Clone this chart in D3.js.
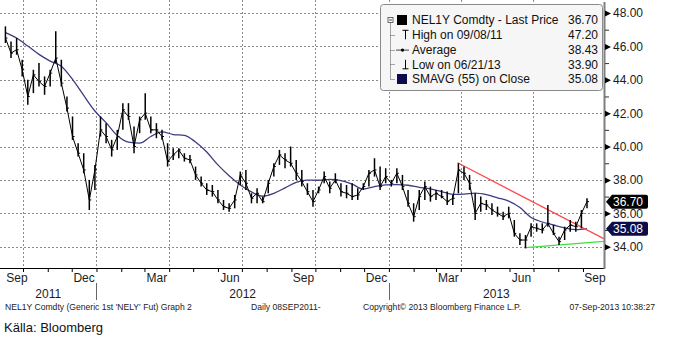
<!DOCTYPE html>
<html><head><meta charset="utf-8">
<script src="https://cdn.jsdelivr.net/npm/d3@7"></script>
<style>
html,body{margin:0;padding:0;background:#fff;}
svg{display:block;}
text{font-family:"Liberation Sans",Arial,sans-serif;}
</style></head><body>
<svg id="c" width="676" height="338"></svg>
<script>
// ---------- DATA ----------
const firstWeek = "2011-09-09";   // weekly bars, one per week (Friday)
const priceHigh = [47.2,46.3,46.5,45.2,44.0,44.6,45.0,44.2,44.6,46.9,45.2,43.0,41.8,40.2,39.6,38.0,38.9,41.8,41.4,40.4,
41.0,42.6,42.6,41.2,41.8,43.2,41.8,41.4,41.0,40.2,39.9,39.9,39.6,39.5,38.8,38.2,37.8,37.7,37.4,36.8,
36.6,37.1,38.5,38.6,37.2,37.5,37.0,38.0,39.0,39.8,39.6,40.0,39.2,38.6,37.8,37.4,37.6,38.5,37.9,38.4,
37.8,37.7,37.8,37.5,37.8,38.6,39.3,38.8,38.7,38.0,38.7,38.3,37.4,36.6,37.4,37.9,37.6,37.4,37.4,37.3,
37.1,39.0,38.8,38.3,37.2,37.0,36.8,36.6,36.4,36.1,36.4,35.6,34.8,34.7,35.4,35.4,35.4,36.5,35.3,34.6,
35.2,35.6,35.5,36.2,36.9];
const priceLow = [46.2,45.3,45.5,44.2,42.5,43.2,43.6,43.1,43.6,45.0,43.6,42.1,40.4,39.4,38.4,36.2,37.4,40.6,40.2,39.4,
39.8,41.0,41.6,39.6,40.8,41.6,40.8,40.5,40.4,38.8,39.2,39.3,39.1,39.0,38.0,37.6,37.1,37.0,36.6,36.2,
36.1,36.3,37.7,37.4,36.6,36.6,36.6,37.2,38.2,38.9,38.7,38.8,38.0,37.6,37.1,36.4,37.2,37.8,37.2,37.8,
37.0,36.9,36.8,36.8,37.4,37.6,38.2,37.4,37.8,37.6,37.8,37.4,36.4,35.5,36.2,36.8,36.7,36.8,36.9,36.5,
36.5,37.2,38.0,37.4,35.6,36.1,36.2,35.9,35.8,35.6,35.7,34.6,34.1,33.9,34.6,34.9,34.8,35.2,34.7,34.1,
34.4,34.9,34.9,35.1,36.3];
const priceClose = [46.5,45.6,45.8,44.6,43.0,44.3,43.9,43.6,44.4,45.3,43.8,42.3,40.6,39.6,38.6,36.8,38.6,41.0,40.6,39.8,
40.6,42.2,41.8,40.0,41.6,42.0,41.0,41.0,40.6,39.1,39.5,39.8,39.3,39.2,38.3,37.8,37.4,37.3,36.8,36.4,
36.3,36.8,38.3,37.8,36.9,37.2,36.7,37.8,38.8,39.5,39.2,39.0,38.4,37.9,37.3,36.7,37.4,38.2,37.5,38.0,
37.3,37.2,37.0,37.1,37.6,38.4,38.6,37.6,38.2,37.8,38.4,37.6,36.6,35.8,37.0,37.6,37.0,37.2,37.0,36.7,
36.9,38.6,38.4,37.8,36.0,36.6,36.5,36.2,36.0,35.8,36.0,34.8,34.4,34.4,35.2,35.1,35.0,35.4,34.8,34.3,
35.0,35.3,35.2,36.0,36.7];
const smaFirst = "2011-09-09";    // SMAVG(55) sampled every two weeks
const smaValues = [46.83,46.5,46.02,45.52,45.12,44.81,44.02,43.06,42.13,41.43,40.66,40.26,40.2,40.6,40.88,40.72,40.67,40.27,39.67,38.9,
38.25,37.7,37.28,37.03,37.2,37.52,37.86,37.99,37.98,38.03,37.96,37.75,37.45,37.6,37.7,37.72,37.68,37.56,37.46,37.3,
37.14,37.15,37.21,37.12,36.93,36.73,36.35,35.75,35.48,35.3,35.13,35.02,35.08];
const resistDates = ["2013-03-28","2013-09-27"];
const resistValues = [39.03, 34.48];
const supportDates = ["2013-06-21","2013-09-27"];
const supportValues = [33.95, 34.32];
const yTicks = [34,36,38,40,42,44,46,48];
const yMinorTicks = [35,37,39,41,43,45,47];
const labelMonths = ["2011-09","2011-12","2012-03","2012-06","2012-09","2012-12","2013-03","2013-06","2013-09"];
const labelTexts = ["Sep","Dec","Mar","Jun","Sep","Dec","Mar","Jun","Sep"];
const yearTexts = ["2011","2012","2013"];
const legendLabels = ["NEL1Y Comdty - Last Price","High on 09/08/11","Average","Low on 06/21/13","SMAVG (55) on Close"];
const legendValues = ["36.70","47.20","38.43","33.90","35.08"];
const lastPrice = 36.70;
const lastSma = 35.08;
const footerTexts = ["NEL1Y Comdty (Generic 1st 'NELY' Fut) Graph 2","Daily 08SEP2011-","Copyright\u00A9 2013 Bloomberg Finance L.P.","07-Sep-2013 10:38:27"];
const sourceText = "Källa: Bloomberg";

// ---------- SETUP ----------
const svg = d3.select("#c");
const parse = d3.utcParse("%Y-%m-%d");
const pm = d3.utcParse("%Y-%m");
const plotL = 0, plotR = 604, plotT = 2, plotB = 268;

const x = d3.scaleUtc().domain([new Date(Date.UTC(2011,9,1)), new Date(Date.UTC(2013,8,6))]).range([23, 587]);
const y = d3.scaleLinear().domain([34, 48]).range([246.7, 13]);

const w0 = parse(firstWeek);
const weeks = priceHigh.map((_, i) => d3.utcDay.offset(w0, 7 * i));
const s0 = parse(smaFirst);
const smaDates = smaValues.map((_, i) => d3.utcDay.offset(s0, 14 * i));

// gridlines
const grid = svg.append("g");
grid.selectAll("line.h").data(yTicks).join("line")
  .attr("x1", plotL).attr("x2", plotR)
  .attr("y1", d => Math.round(y(d)) + 0.5).attr("y2", d => Math.round(y(d)) + 0.5)
  .attr("stroke", "#8c8c8c").attr("stroke-dasharray", "2,2");
const quarters = d3.utcMonth.every(3).range(new Date(Date.UTC(2011,9,1)), new Date(Date.UTC(2013,9,2)))
  .filter(d => x(d) > plotL && x(d) < plotR - 2);
grid.selectAll("line.v").data(quarters).join("line")
  .attr("x1", d => Math.round(x(d)) + 0.5).attr("x2", d => Math.round(x(d)) + 0.5)
  .attr("y1", 0).attr("y2", plotB)
  .attr("stroke", "#8c8c8c").attr("stroke-dasharray", "2,2");

// plot content clipped
svg.append("clipPath").attr("id", "clp").append("rect")
  .attr("x", plotL).attr("y", 0).attr("width", plotR - plotL).attr("height", plotB);
const plot = svg.append("g").attr("clip-path", "url(#clp)");

// moving average
plot.append("path").datum(smaValues)
  .attr("fill", "none").attr("stroke", "#3c3c82").attr("stroke-width", 1.3)
  .attr("d", d3.line().x((d, i) => x(smaDates[i])).y(d => y(d)).curve(d3.curveMonotoneX));

// trend lines
plot.append("path").datum(resistValues)
  .attr("fill", "none").attr("stroke", "#ff4a4a").attr("stroke-width", 1.3)
  .attr("d", d3.line().x((d, i) => x(parse(resistDates[i]))).y(d => y(d)));
plot.append("path").datum(supportValues)
  .attr("fill", "none").attr("stroke", "#3fe03f").attr("stroke-width", 1.3)
  .attr("d", d3.line().x((d, i) => x(parse(supportDates[i]))).y(d => y(d)));

// price bars
plot.append("path").datum(priceClose)
  .attr("fill", "none").attr("stroke", "#000").attr("stroke-width", 1)
  .attr("d", d3.line().x((d, i) => x(weeks[i])).y(d => y(d)));
plot.selectAll("line.bar").data(priceHigh).join("line")
  .attr("x1", (d, i) => x(weeks[i])).attr("x2", (d, i) => x(weeks[i]))
  .attr("y1", d => y(d)).attr("y2", (d, i) => y(priceLow[i]))
  .attr("stroke", "#000").attr("stroke-width", 1.5);
plot.selectAll("line.cl").data(priceClose).join("line")
  .attr("x1", (d, i) => x(weeks[i])).attr("x2", (d, i) => x(weeks[i]) + 2)
  .attr("y1", d => y(d)).attr("y2", d => y(d))
  .attr("stroke", "#000").attr("stroke-width", 1);

// bottom axis
svg.append("line").attr("x1", plotL).attr("x2", plotR).attr("y1", plotB + 0.5).attr("y2", plotB + 0.5)
  .attr("stroke", "#000");
const months = d3.utcMonth.range(new Date(Date.UTC(2011,8,1)), new Date(Date.UTC(2013,10,1)))
  .filter(d => x(d) > plotL && x(d) < plotR - 2);
const bax = svg.append("g").attr("transform", `translate(0,${plotB})`)
  .call(d3.axisBottom(x).tickValues(months).tickSize(4).tickFormat(""));
bax.select(".domain").remove();
bax.selectAll("line").attr("stroke", "#000");

labelMonths.forEach((m, i) => {
  const a = pm(m), b = d3.utcMonth.offset(a, 1);
  let cx = (x(a) + x(b)) / 2;
  cx = Math.max(cx, 17);
  svg.append("text").attr("x", cx).attr("y", 282).attr("text-anchor", "middle")
    .attr("font-size", 12).attr("fill", "#1c1c1c").text(labelTexts[i]);
});
const yb = [plotL, x(new Date(Date.UTC(2012,0,1))), x(new Date(Date.UTC(2013,0,1))), plotR];
yearTexts.forEach((t, i) => {
  svg.append("text").attr("x", (yb[i] + yb[i + 1]) / 2).attr("y", 297.5).attr("text-anchor", "middle")
    .attr("font-size", 12).attr("fill", "#1c1c1c").text(t);
});
[yb[1], yb[2]].forEach(v => {
  svg.append("line").attr("x1", Math.round(v) + 0.5).attr("x2", Math.round(v) + 0.5)
    .attr("y1", 283).attr("y2", 300).attr("stroke", "#666");
});

// right axis
svg.append("line").attr("x1", plotR + 0.5).attr("x2", plotR + 0.5).attr("y1", plotT).attr("y2", plotB + 1)
  .attr("stroke", "#7f7f7f").attr("stroke-width", 2);
const rax = svg.append("g").attr("transform", `translate(${plotR + 1},0)`)
  .call(d3.axisRight(y).tickValues(yTicks).tickSize(0).tickPadding(8).tickFormat(d3.format(".2f")));
rax.select(".domain").remove();
rax.selectAll("text").attr("font-size", 12).attr("fill", "#1c1c1c")
  .attr("font-family", '"Liberation Sans",Arial,sans-serif');
rax.selectAll(".tick").append("path").attr("d", "M0,-3L6,0L0,3Z").attr("fill", "#000");
const rmin = svg.append("g").attr("transform", `translate(${plotR + 1},0)`)
  .call(d3.axisRight(y).tickValues(yMinorTicks).tickSize(4).tickFormat(""));
rmin.select(".domain").remove();
rmin.selectAll("line").attr("stroke", "#333");

// value tags
function tag(v, color) {
  const cy = y(v);
  svg.append("path")
    .attr("d", `M${plotR + 2},${cy} L${plotR + 8},${cy - 7} L${plotR + 42},${cy - 7} Q${plotR + 44},${cy - 7} ${plotR + 44},${cy - 5} L${plotR + 44},${cy + 5} Q${plotR + 44},${cy + 7} ${plotR + 42},${cy + 7} L${plotR + 8},${cy + 7} Z`)
    .attr("fill", color);
  svg.append("text").attr("x", plotR + 9).attr("y", cy + 4.4).attr("font-size", 12)
    .attr("fill", "#fff").text(d3.format(".2f")(v));
}
tag(lastPrice, "#000");
tag(lastSma, "#0c0c4a");

// legend
const lg = svg.append("g");
lg.append("rect").attr("x", 380.5).attr("y", 4.5).attr("width", 222).attr("height", 86).attr("rx", 3)
  .attr("fill", "#f6f6f6").attr("stroke", "#8a8a8a");
const rowY = [20, 34.8, 49.6, 64.3, 79];
lg.append("line").attr("x1", 390.5).attr("x2", 390.5).attr("y1", 22.5).attr("y2", rowY[4])
  .attr("stroke", "#555").attr("stroke-dasharray", "1,1");
rowY.slice(1).forEach(r => lg.append("line").attr("x1", 390.5).attr("x2", 395).attr("y1", Math.round(r) + 0.5).attr("y2", Math.round(r) + 0.5)
  .attr("stroke", "#555").attr("stroke-dasharray", "1,1"));
lg.append("rect").attr("x", 388).attr("y", 17.5).attr("width", 5).attr("height", 5).attr("fill", "#fff").attr("stroke", "#444").attr("stroke-width", 0.8);
lg.append("line").attr("x1", 389).attr("x2", 392).attr("y1", 20).attr("y2", 20).attr("stroke", "#222").attr("stroke-width", 0.8);
lg.append("rect").attr("x", 397).attr("y", rowY[0] - 5).attr("width", 10).attr("height", 10).attr("fill", "#000");
// high icon
lg.append("path").attr("d", `M402.5,${rowY[1] - 4.5}H408.5M405.5,${rowY[1] - 4.5}V${rowY[1] + 4.5}`).attr("stroke", "#000").attr("fill", "none");
// average icon
lg.append("path").attr("d", `M396,${rowY[2] + 0.5}H409`).attr("stroke", "#444").attr("fill", "none");
lg.append("circle").attr("cx", 402.5).attr("cy", rowY[2] + 0.5).attr("r", 1.6).attr("fill", "#000");
// low icon
lg.append("path").attr("d", `M405.5,${rowY[3] - 4.5}V${rowY[3] + 4.5}M402.5,${rowY[3] + 4.5}H408.5`).attr("stroke", "#000").attr("fill", "none");
lg.append("rect").attr("x", 397).attr("y", rowY[4] - 5).attr("width", 10).attr("height", 10).attr("fill", "#0c0c4a");
legendLabels.forEach((t, i) => {
  lg.append("text").attr("x", 412).attr("y", rowY[i] + 4.3).attr("font-size", 12).attr("fill", "#111").text(t);
  lg.append("text").attr("x", 598).attr("y", rowY[i] + 4.3).attr("font-size", 12).attr("text-anchor", "end")
    .attr("fill", "#111").text(legendValues[i]);
});

// footer
const fx = [5, 251, 363, 655];
footerTexts.forEach((t, i) => {
  svg.append("text").attr("x", fx[i]).attr("y", 310).attr("font-size", 8.6)
    .attr("font-family", '"DejaVu Sans",sans-serif').attr("fill", "#222")
    .attr("text-anchor", i === 3 ? "end" : "start").text(t);
});
svg.append("text").attr("x", 4).attr("y", 332).attr("font-size", 13).attr("fill", "#111").text(sourceText);
</script>
</body></html>
